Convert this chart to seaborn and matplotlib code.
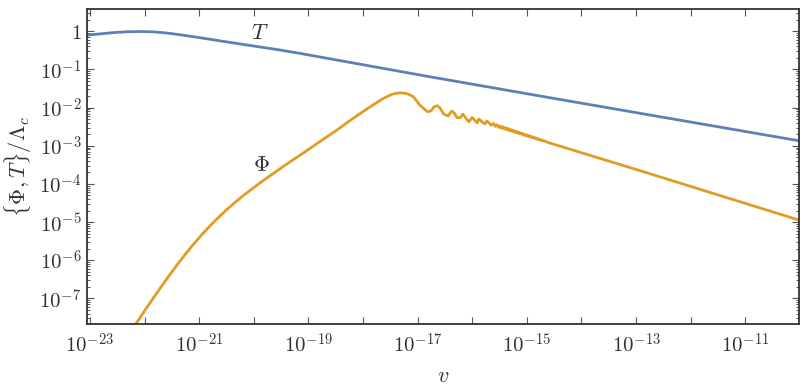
import numpy as np
import pandas as pd
import matplotlib
matplotlib.use("Agg")
import matplotlib.pyplot as plt
import matplotlib.ticker as mticker
import seaborn as sns

# ---- data (log10 values) ----
T_logv = [-23.06, -22.83, -22.58, -22.33, -22.08, -21.83, -21.59, -21.35, -21.11,
          -20.86, -20.62, -20.37, -20.12, -19.82, -19.52, -19.15,
          -16.86, -14.58, -10.01]
T_logy = [-0.10, -0.07, -0.035, -0.012, -0.005, -0.015, -0.045, -0.09, -0.14,
          -0.195, -0.25, -0.305, -0.36, -0.425, -0.49, -0.58,
          -1.17, -1.74, -2.87]

Phi_logv = [-22.22, -22.16, -22.00, -21.85, -21.70, -21.55, -21.40, -21.25, -21.10,
            -20.95, -20.80, -20.65, -20.50, -20.35, -20.20, -20.05, -19.90,
            -19.70, -19.40, -19.09, -18.79, -18.48, -18.18, -17.87, -17.63, -17.45,
            -17.32, -17.20, -17.08, -16.96, -16.86, -16.81, -16.75, -16.70, -16.64,
            -16.59, -16.52, -16.44, -16.41, -16.37, -16.33, -16.28, -16.22, -16.17,
            -16.11, -16.06, -16.00, -15.91, -15.88, -15.77, -15.73,
            -15.65, -15.61, -15.575, -15.545, -15.515, -15.488, -15.462, -15.437,
            -15.413, -15.390, -15.367, -15.345, -15.323, -15.302, -15.281, -15.261,
            -15.241, -15.221, -15.201, -15.182, -15.163, -15.144, -15.125, -15.107,
            -15.089, -15.071, -15.053, -15.036, -15.019, -15.002, -14.985, -14.968,
            -14.951, -14.934, -14.917, -14.900, -14.883, -14.866, -14.849, -14.832,
            -14.815, -14.798, -14.781, -14.764, -14.747, -14.730, -14.713, -14.696,
            -14.58, -13.00, -10.01]
Phi_logy = [-7.80, -7.67, -7.326, -7.011, -6.703, -6.403, -6.113, -5.836, -5.573,
            -5.327, -5.097, -4.883, -4.680, -4.491, -4.314, -4.148, -3.989,
            -3.783, -3.483, -3.185, -2.89, -2.59, -2.28, -1.98, -1.76, -1.64,
            -1.61, -1.63, -1.71, -1.93, -2.06, -2.11, -2.08, -1.98, -1.95,
            -2.01, -2.17, -2.22, -2.15, -2.09, -2.14, -2.26, -2.27, -2.17,
            -2.29, -2.37, -2.26, -2.40, -2.30, -2.43, -2.35,
            -2.462, -2.414, -2.492, -2.446, -2.518, -2.476, -2.541, -2.501,
            -2.561, -2.525, -2.581, -2.547, -2.600, -2.568, -2.619, -2.588,
            -2.636, -2.608, -2.654, -2.627, -2.671, -2.645, -2.687, -2.664,
            -2.703, -2.682, -2.719, -2.699, -2.735, -2.716, -2.749, -2.731,
            -2.764, -2.748, -2.780, -2.765, -2.795, -2.781, -2.810, -2.798,
            -2.825, -2.814, -2.840, -2.831, -2.855, -2.848, -2.870, -2.865,
            -2.928, -3.62, -4.95]

x_tick_exponents = list(range(-23, -9))
y_tick_exponents = list(range(0, -8, -1))
curve_labels = ["$T$", r"$\Phi$"]
xlabel = "$v$"
ylabel = r"$\{\Phi, T\}/\Lambda_c$"

df_T = pd.DataFrame({"v": 10.0 ** np.array(T_logv), "y": 10.0 ** np.array(T_logy)})
df_P = pd.DataFrame({"v": 10.0 ** np.array(Phi_logv), "y": 10.0 ** np.array(Phi_logy)})

# ---- style ----
sns.set_theme(style="ticks")
plt.rcParams["mathtext.fontset"] = "cm"
plt.rcParams["font.family"] = ["DejaVu Serif"]
text_col = "#333333"

fig = plt.figure(figsize=(8.09, 3.89), dpi=100)
ax = fig.add_axes([87 / 809, 1 - 324 / 389, (799 - 87) / 809, (324 - 9) / 389])
ax.set_xscale("log")
ax.set_yscale("log")

blue = "#5E81B5"
orange = "#E19C24"
sns.lineplot(data=df_T, x="v", y="y", ax=ax, color=blue, lw=2.0, sort=False,
             estimator=None)
sns.lineplot(data=df_P, x="v", y="y", ax=ax, color=orange, lw=2.0, sort=False,
             estimator=None)

ax.set_xlim(10 ** -23.055, 10 ** -10.015)
ax.set_ylim(10 ** -7.672, 10 ** 0.585)

# x ticks: every decade, label odd exponents
ax.xaxis.set_major_locator(mticker.FixedLocator([10.0 ** e for e in x_tick_exponents]))
ax.xaxis.set_minor_locator(mticker.NullLocator())

def xfmt(val, pos):
    e = int(round(np.log10(val)))
    return r"$10^{%d}$" % e if e % 2 != 0 else ""

ax.xaxis.set_major_formatter(mticker.FuncFormatter(xfmt))

ax.yaxis.set_major_locator(mticker.FixedLocator([10.0 ** e for e in y_tick_exponents]))
ax.yaxis.set_minor_locator(mticker.LogLocator(base=10, subs=np.arange(2, 10), numticks=30))

def yfmt(val, pos):
    e = int(round(np.log10(val)))
    return "$1$" if e == 0 else r"$10^{%d}$" % e

ax.yaxis.set_major_formatter(mticker.FuncFormatter(yfmt))
ax.yaxis.set_minor_formatter(mticker.NullFormatter())

ax.tick_params(which="both", direction="in", top=True, right=True, colors="#555555",
               labelcolor=text_col, labelsize=15)
ax.tick_params(which="major", length=5, width=0.8)
ax.tick_params(which="minor", length=2.5, width=0.7)
ax.tick_params(axis="x", which="major", pad=6)
ax.tick_params(axis="y", which="major", pad=4)
for s in ax.spines.values():
    s.set_color("#333333")
    s.set_linewidth(1.3)

ax.set_xlabel(xlabel, fontsize=16, color=text_col, labelpad=6)
ax.set_ylabel(ylabel, fontsize=16, color=text_col, labelpad=4)

ax.text(10 ** -19.89, 10 ** -0.045, curve_labels[0], fontsize=16, color=text_col,
        ha="center", va="center")
ax.text(10 ** -19.87, 10 ** -3.50, curve_labels[1], fontsize=16, color=text_col,
        ha="center", va="center")

fig.savefig("out.png", dpi=100)
